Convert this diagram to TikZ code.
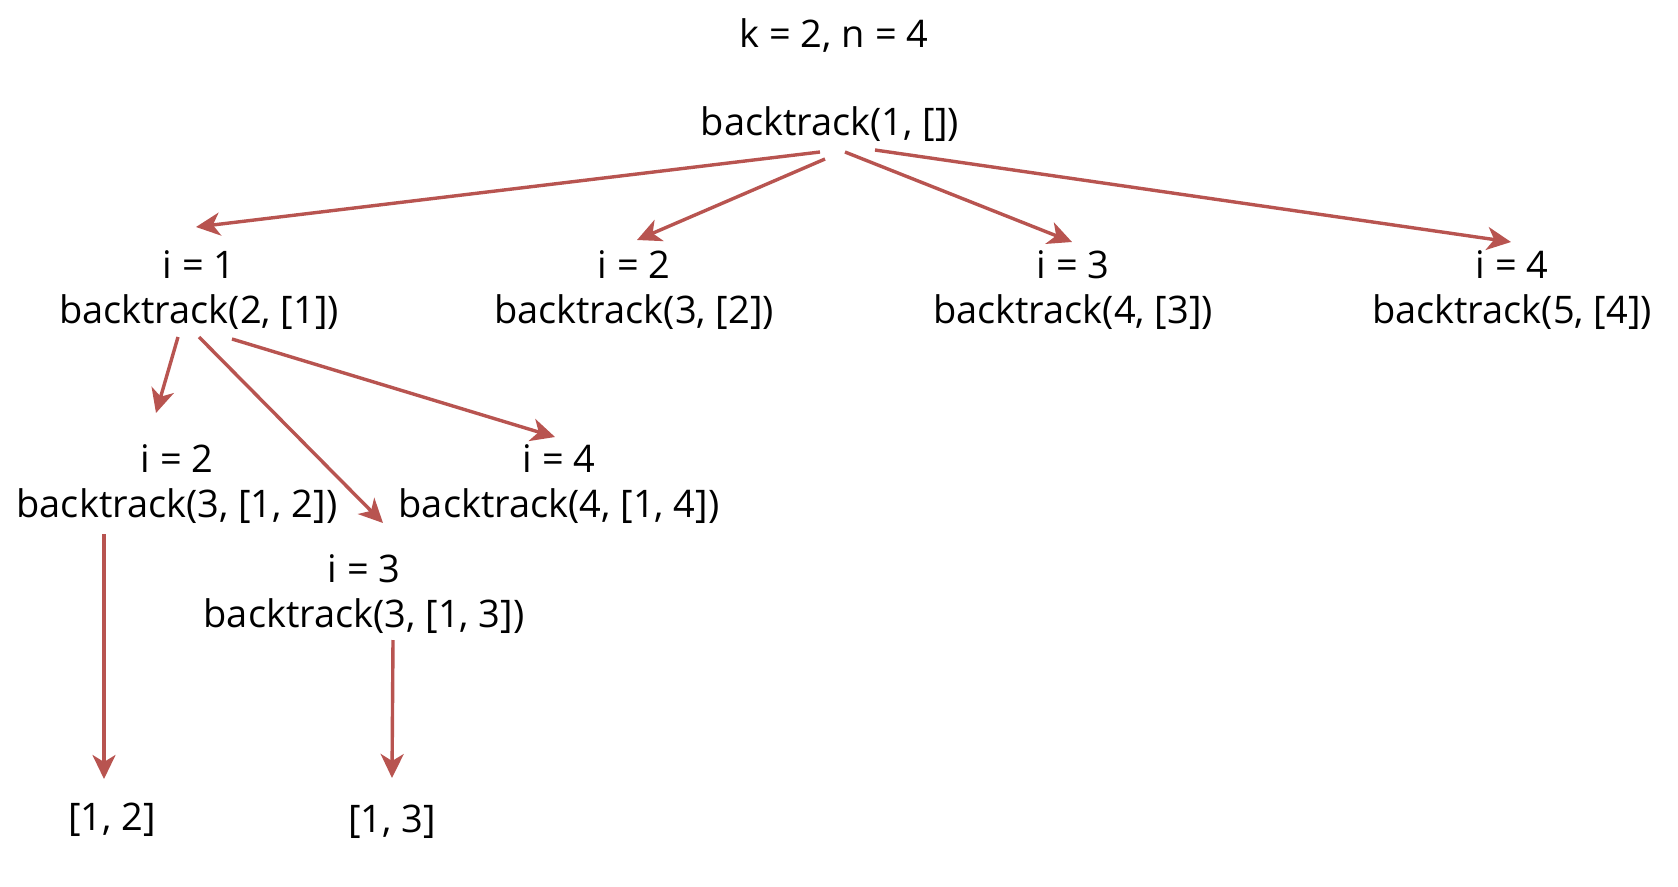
\documentclass[tikz,border=0pt]{standalone}
\usepackage{fontspec}
\setmainfont{Open Sans}
\usetikzlibrary{arrows.meta,calc}
\definecolor{arrowred}{HTML}{B85450}
\begin{document}
\begin{tikzpicture}[x=1pt,y=-1pt,
  lbl/.style={font=\fontsize{38}{45}\selectfont, align=center, inner sep=0pt, text=black},
  arr/.style={draw=arrowred, line width=3.4pt, -{Stealth[length=24pt,width=23pt,inset=7pt]}}]
\useasboundingbox[fill=white] (0,0) rectangle (1678,886);
\node[lbl] (title) at (834,36) {k = 2, n = 4};
\node[lbl] (root) at (830,124) {backtrack(1, [])};
\node[lbl] (i1) at (199,290) {i = 1\\backtrack(2, [1])};
\node[lbl] (i2) at (634,290) {i = 2\\backtrack(3, [2])};
\node[lbl] (i3) at (1073,290) {i = 3\\backtrack(4, [3])};
\node[lbl] (i4) at (1512,290) {i = 4\\backtrack(5, [4])};
\node[lbl] (a) at (177,484) {i = 2\\backtrack(3, [1, 2])};
\node[lbl] (b) at (559,484) {i = 4\\backtrack(4, [1, 4])};
\node[lbl] (c) at (364,594) {i = 3\\backtrack(3, [1, 3])};
\node[lbl] (leafA) at (112,820) {[1, 2]};
\node[lbl] (leafC) at (392,822) {[1, 3]};
\draw[arr] ($(root)+(-10,28)$) -- ($(i1)+(-3,-63)$);
\draw[arr] ($(root)+(-5,35)$) -- ($(i2)+(3,-50)$);
\draw[arr] ($(root)+(15,28)$) -- ($(i3)+(-1,-48)$);
\draw[arr] ($(root)+(45,26)$) -- ($(i4)+(-1,-48)$);
\draw[arr] ($(i1)+(-21,47)$) -- ($(a)+(-21,-71)$);
\draw[arr] ($(i1)+(0,47)$) -- ($(c)+(19,-71)$);
\draw[arr] ($(i1)+(33,49)$) -- ($(b)+(-4,-47)$);
\draw[arr] ($(a)+(-73,50)$) -- ($(leafA)+(-8,-41)$);
\draw[arr] ($(c)+(29,46)$) -- ($(leafC)+(0,-44)$);
\end{tikzpicture}
\end{document}
